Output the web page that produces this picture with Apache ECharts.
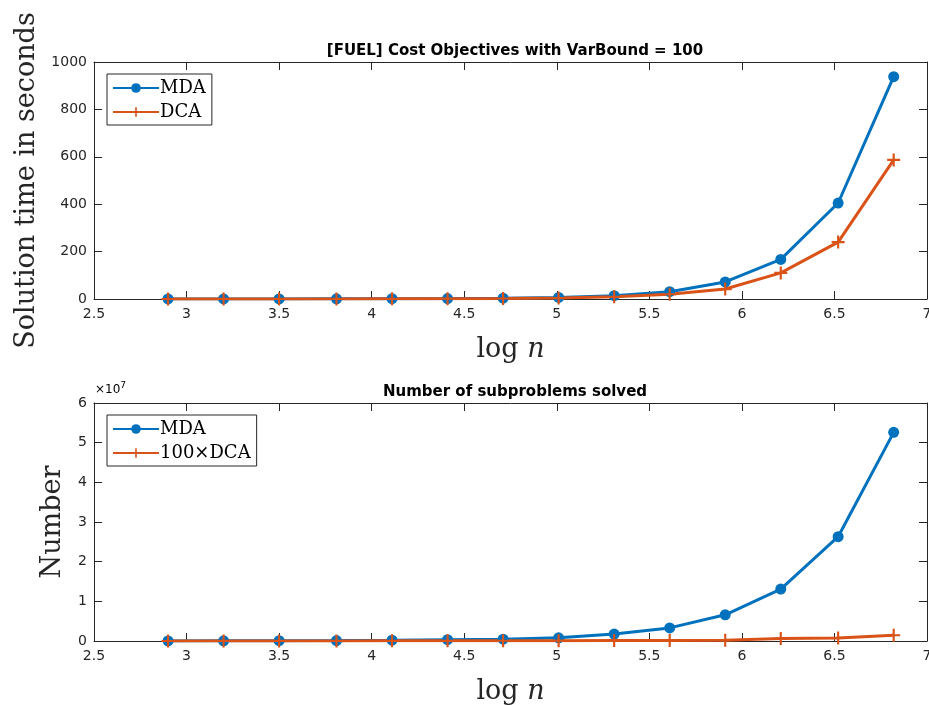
<!DOCTYPE html>
<html>
<head>
<meta charset="utf-8">
<script src="https://cdn.jsdelivr.net/npm/echarts@6/dist/echarts.min.js"></script>
<style>html,body{margin:0;padding:0;background:#fff;}#c{width:929px;height:705px;}</style>
</head>
<body>
<div id="c"></div>
<script>
// log n values
var logN = [2.9, 3.2, 3.5, 3.81, 4.11, 4.41, 4.71, 5.01, 5.31, 5.61, 5.91, 6.21, 6.52, 6.82];
// Solution time (seconds)
var timeMDA = [0.2, 0.3, 0.5, 0.8, 1.2, 2, 3.5, 6.5, 14, 31, 72, 167, 405, 938];
var timeDCA = [0.1, 0.2, 0.3, 0.5, 0.8, 1.3, 2.2, 4, 9, 20, 42, 110, 240, 587];
// Number of subproblems solved
var subMDA = [2e4, 4e4, 7e4, 1.2e5, 2e5, 3.2e5, 4.5e5, 8e5, 1.75e6, 3.3e6, 6.6e6, 1.31e7, 2.63e7, 5.26e7];
var sub100DCA = [1e4, 1.5e4, 2e4, 3e4, 4e4, 5e4, 7e4, 9e4, 1.2e5, 1.5e5, 2e5, 6e5, 7.6e5, 1.44e6];
var topTitle = '[FUEL] Cost Objectives with VarBound = 100';
var botTitle = 'Number of subproblems solved';

function pairs(xs, ys) { return xs.map(function (x, i) { return [x, ys[i]]; }); }

var BLUE = '#0072BD', RED = '#D95319', AX = '#262626';
var plusPath = 'path://M-1,-6h2v5h5v2h-5v5h-2v-5h-5v-2h5z';
var tickFont = { fontFamily: 'DejaVu Sans', fontSize: 14, color: AX };
var serif = 'DejaVu Serif';

function xAx(gi, pos, labels) {
  return {
    type: 'value', gridIndex: gi, position: pos, min: 2.5, max: 7, interval: 0.5,
    axisLine: { show: true, onZero: false, lineStyle: { color: AX, width: 1 } },
    axisTick: { show: true, inside: true, length: 8, lineStyle: { color: AX } },
    axisLabel: Object.assign({ show: labels, margin: 8, formatter: function (v) { return String(v); } }, tickFont),
    splitLine: { show: false },
    name: labels ? '{a|log }{b|n}' : '',
    nameLocation: 'middle', nameGap: 37,
    nameTextStyle: { rich: { a: { fontFamily: serif, fontSize: 27, color: AX }, b: { fontFamily: serif, fontStyle: 'italic', fontSize: 27, color: AX } } }
  };
}
function yAx(gi, pos, labels, max, interval, name, gap, fmt) {
  return {
    type: 'value', gridIndex: gi, position: pos, min: 0, max: max, interval: interval,
    axisLine: { show: true, onZero: false, lineStyle: { color: AX, width: 1 } },
    axisTick: { show: true, inside: true, length: 8, lineStyle: { color: AX } },
    axisLabel: Object.assign({ show: labels, margin: 7, formatter: fmt || function (v) { return String(v); } }, tickFont),
    splitLine: { show: false },
    name: labels ? name : '',
    nameLocation: 'middle', nameGap: gap,
    nameTextStyle: { fontFamily: serif, fontSize: 27, color: AX }
  };
}
function lineSeries(name, xi, yi, data, color, isPlus) {
  return {
    name: name, type: 'line', xAxisIndex: xi, yAxisIndex: yi, data: data,
    symbol: isPlus ? plusPath : 'circle', symbolSize: isPlus ? 13 : 11,
    showSymbol: true, animation: false,
    lineStyle: { color: color, width: 3 },
    itemStyle: { color: color, borderWidth: 0 }
  };
}
var legendCommon = {
  orient: 'vertical', itemWidth: 46, itemHeight: 12, itemGap: 6,
  borderColor: AX, borderWidth: 1, backgroundColor: '#fff', padding: [5, 6, 4, 5],
  textStyle: { fontFamily: serif, fontSize: 18, color: '#000', padding: [0, 0, 0, -4] }
};
var gridCommon = { show: false, containLabel: false, outerBoundsMode: 'none' };
var titleStyle = { fontFamily: 'DejaVu Sans', fontWeight: 'bold', fontSize: 15, color: '#000' };

var chart = echarts.init(document.getElementById('c'), null, { renderer: 'canvas' });
chart.setOption({
  animation: false,
  backgroundColor: '#fff',
  title: [
    { text: topTitle, left: 510, top: 39, textAlign: 'center', textStyle: titleStyle },
    { text: botTitle, left: 510, top: 380, textAlign: 'center', textStyle: titleStyle }
  ],
  grid: [
    Object.assign({ left: 94, top: 62, width: 833, height: 237 }, gridCommon),
    Object.assign({ left: 94, top: 403, width: 833, height: 238 }, gridCommon)
  ],
  xAxis: [xAx(0, 'bottom', true), xAx(0, 'top', false), xAx(1, 'bottom', true), xAx(1, 'top', false)],
  yAxis: [
    yAx(0, 'left', true, 1000, 200, 'Solution time in seconds', 52),
    yAx(0, 'right', false, 1000, 200, '', 0),
    yAx(1, 'left', true, 6e7, 1e7, 'Number', 28, function (v) { return String(v / 1e7); }),
    yAx(1, 'right', false, 6e7, 1e7, '', 0)
  ],
  legend: [
    Object.assign({ left: 107, top: 74, data: ['MDA', 'DCA'] }, legendCommon),
    Object.assign({ left: 107, top: 415, data: ['MDA ', '100×DCA'] }, legendCommon)
  ],
  graphic: [
    { type: 'text', left: 95, top: 381, style: { text: '{a|×10}{b|7}', rich: { a: { fontFamily: 'DejaVu Sans', fontSize: 12, color: AX }, b: { fontFamily: 'DejaVu Sans', fontSize: 9, color: AX, verticalAlign: 'top', padding: [0, 0, 8, 0] } } } }
  ],
  series: [
    lineSeries('MDA', 0, 0, pairs(logN, timeMDA), BLUE, false),
    lineSeries('DCA', 0, 0, pairs(logN, timeDCA), RED, true),
    lineSeries('MDA ', 2, 2, pairs(logN, subMDA), BLUE, false),
    lineSeries('100×DCA', 2, 2, pairs(logN, sub100DCA), RED, true)
  ]
});
</script>
</body>
</html>
